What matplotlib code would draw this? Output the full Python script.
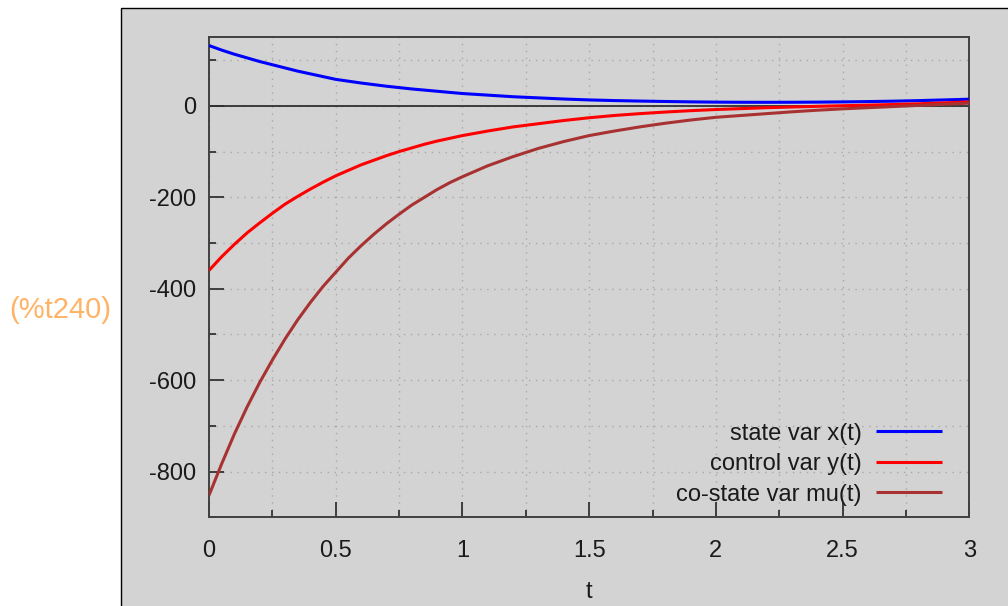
import matplotlib
matplotlib.use("Agg")
import matplotlib.pyplot as plt
from matplotlib.patches import Rectangle
from matplotlib.ticker import MultipleLocator

t_vals = [0.0, 0.05, 0.1, 0.15, 0.2, 0.25, 0.3, 0.35, 0.4, 0.45, 0.5,
          0.55, 0.6, 0.65, 0.7, 0.75, 0.8, 0.85, 0.9, 0.95, 1.0,
          1.1, 1.2, 1.3, 1.4, 1.5, 1.6, 1.7, 1.8, 1.9, 2.0,
          2.1, 2.2, 2.3, 2.4, 2.5, 2.6, 2.7, 2.8, 2.9, 3.0]
state_x = [132, 122, 113, 105, 97, 90, 83, 76, 70, 64, 58,
           54, 50, 46.5, 43, 40, 37, 34.5, 32, 29.5, 27,
           23.5, 20, 17.5, 15, 13, 11.6, 10.5, 9.6, 8.8, 8.2,
           7.9, 7.8, 7.9, 8.2, 8.7, 9.4, 10.3, 11.5, 13, 14.6]
control_y = [-360, -330, -303, -278, -256, -235, -215, -198, -182, -167, -153,
             -141, -129, -119, -109, -100, -92, -84, -77, -71, -65,
             -55, -46, -39, -32, -26, -21, -17, -13.5, -10.5, -8,
             -6, -4, -2.5, -1, 0.3, 1.6, 3, 4.5, 6.5, 8.7]
costate_mu = [-852, -783, -718, -659, -605, -556, -510, -468, -430, -395, -364,
              -333, -306, -281, -258, -237, -217, -200, -183, -168, -155,
              -131, -111, -93, -78, -65, -55, -46, -38, -31, -25,
              -21, -17, -13, -9.5, -6.5, -4, -1.5, 1, 3.5, 6]
labels = ["state var x(t)", "control var y(t)", "co-state var mu(t)"]
colors = ["#0000ff", "#ff0000", "#a83232"]
x_ticks = [0, 0.5, 1, 1.5, 2, 2.5, 3]
x_ticklabels = ["0", "0.5", "1", "1.5", "2", "2.5", "3"]
y_ticks = [-800, -600, -400, -200, 0]
y_ticklabels = ["-800", "-600", "-400", "-200", "0"]

plt.rcParams['font.family'] = ['Liberation Sans', 'DejaVu Sans']
W, H = 1008, 606
fig = plt.figure(figsize=(W / 100, H / 100), dpi=100)
fig.patch.set_facecolor("white")
bg = "#d3d3d3"

# grey panel behind the plot
pax = fig.add_axes([0, 0, 1, 1], zorder=-5)
pax.set_xlim(0, W)
pax.set_ylim(H, 0)
pax.axis("off")
pax.add_patch(Rectangle((121, 8), W - 121 + 5, H, facecolor=bg,
                        edgecolor="black", linewidth=1.0))
pax.text(60, 310, "(%t240)", color="#ffb366", fontsize=21,
         ha="center", va="center")

ax = fig.add_axes([209 / W, 1 - 517.3 / H, (969.3 - 209) / W, (517.3 - 37.3) / H])
ax.set_facecolor(bg)
ax.set_xlim(0, 3)
ax.set_ylim(-900, 150)

series = [state_x, control_y, costate_mu]
for s, c, lab in zip(series, colors, labels):
    ax.plot(t_vals, s, color=c, lw=2.2, label=lab, zorder=3,
            solid_capstyle="butt", solid_joinstyle="round")

ax.axhline(0, color="#303030", lw=1.3, zorder=2)

ax.set_xticks(x_ticks)
ax.set_xticklabels(x_ticklabels)
ax.set_yticks(y_ticks)
ax.set_yticklabels(y_ticklabels)
ax.xaxis.set_minor_locator(MultipleLocator(0.25))
ax.yaxis.set_minor_locator(MultipleLocator(100))
ax.tick_params(which="both", direction="in", colors="#333333", width=1.3,
               labelsize=17, labelcolor="#1a1a1a", top=False, right=False)
ax.tick_params(which="major", length=11)
ax.tick_params(which="minor", length=5)
ax.tick_params(axis="x", which="major", pad=16)
ax.tick_params(axis="y", which="major", pad=9)
ax.grid(which="both", color="#a8a8a8", linestyle=(0, (1, 4)), linewidth=1.0, zorder=1)
ax.set_axisbelow(True)
for sp in ax.spines.values():
    sp.set_color("#404040")
    sp.set_linewidth(1.4)

ax.set_xlabel("t", fontsize=17, color="#1a1a1a", labelpad=14)

leg = ax.legend(loc="lower right", frameon=False, markerfirst=False,
                fontsize=17, handlelength=2.8, handletextpad=0.6,
                labelspacing=0.36, borderaxespad=0.6,
                bbox_to_anchor=(1 - 4 / 760, -12 / 480))
for col in leg._legend_handle_box.get_children():
    col.align = "right"
for txt in leg.get_texts():
    txt.set_color("#1a1a1a")

fig.savefig("out.png", dpi=100, facecolor="white")
